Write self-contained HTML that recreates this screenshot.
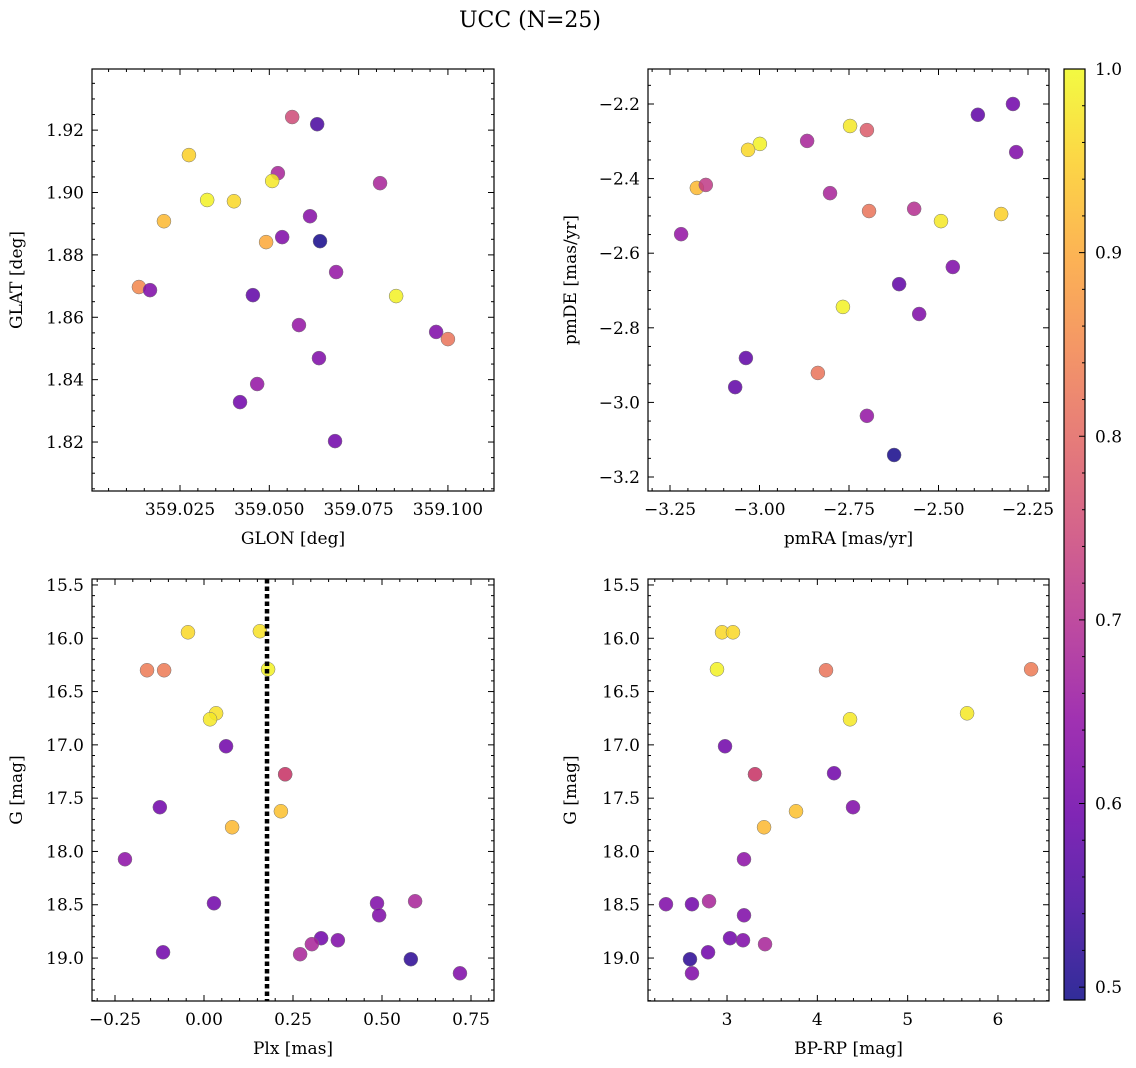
<!DOCTYPE html>
<html><head><meta charset="utf-8"><style>
html,body{margin:0;padding:0;background:#fff;}
svg{display:block;font-family:"DejaVu Serif","Liberation Serif",serif;}
</style></head><body>
<svg id="fig" width="1136" height="1068" viewBox="0 0 1136 1068" xmlns="http://www.w3.org/2000/svg">
<text x="530" y="27" font-size="22" text-anchor="middle">UCC (N=25)</text>
</svg>
<script>
// ---- data ----
const p1x=[359.0564,359.0634,359.0275,359.0810,359.0524,359.0508,359.0326,359.0401,359.0205,359.0614,359.0536,359.0491,359.0642,359.0687,359.0135,359.0166,359.0454,359.0855,359.0583,359.0967,359.1000,359.0639,359.0466,359.0418,359.0684];
const p1y=[1.9242,1.9219,1.9120,1.9030,1.9062,1.9037,1.8976,1.8972,1.8908,1.8924,1.8857,1.8841,1.8844,1.8745,1.8697,1.8687,1.8671,1.8668,1.8575,1.8553,1.8530,1.8469,1.8386,1.8328,1.8203];
const p1c=[0.75,0.55,0.95,0.68,0.68,0.98,0.99,0.96,0.92,0.63,0.62,0.90,0.50,0.65,0.85,0.62,0.58,0.99,0.65,0.62,0.82,0.62,0.65,0.60,0.60];
const p2x=[-2.292,-2.390,-2.747,-2.700,-2.999,-3.032,-2.867,-2.283,-3.175,-3.150,-2.803,-2.694,-2.568,-2.325,-2.493,-3.219,-2.460,-2.610,-2.767,-2.554,-3.038,-2.837,-3.068,-2.700,-2.624];
const p2y=[-2.200,-2.229,-2.259,-2.270,-2.307,-2.323,-2.299,-2.329,-2.425,-2.417,-2.439,-2.487,-2.481,-2.495,-2.514,-2.549,-2.637,-2.683,-2.744,-2.763,-2.881,-2.921,-2.959,-3.036,-3.141];
const p2c=[0.60,0.58,0.98,0.78,0.99,0.96,0.68,0.62,0.92,0.72,0.68,0.82,0.70,0.95,0.98,0.65,0.62,0.58,0.99,0.62,0.58,0.82,0.58,0.65,0.50];
const p3x=[-0.045,0.157,-0.160,-0.112,0.180,0.034,0.017,0.062,0.228,0.216,-0.124,0.079,-0.222,0.028,0.486,0.593,0.492,0.329,0.376,0.303,0.270,-0.115,0.581,0.719,0.228];
const p3y=[15.944,15.934,16.300,16.300,16.291,16.704,16.760,17.013,17.276,17.623,17.585,17.773,18.073,18.486,18.486,18.467,18.599,18.814,18.833,18.870,18.964,18.946,19.011,19.143,17.276];
const p3c=[0.96,0.97,0.83,0.83,0.99,0.97,0.98,0.60,0.75,0.93,0.60,0.92,0.64,0.60,0.62,0.68,0.62,0.60,0.62,0.68,0.68,0.60,0.52,0.62,0.75];
const p4x=[2.945,3.066,2.889,4.096,6.367,5.658,4.362,2.978,3.310,4.185,4.395,3.764,3.410,3.188,2.324,2.612,2.801,3.188,3.033,3.177,3.421,2.790,2.590,2.612,3.310];
const p4y=[15.944,15.944,16.291,16.300,16.291,16.704,16.760,17.013,17.276,17.266,17.585,17.623,17.773,18.073,18.495,18.495,18.467,18.599,18.814,18.833,18.870,18.946,19.011,19.143,17.276];
const p4c=[0.96,0.96,0.99,0.82,0.83,0.98,0.98,0.60,0.75,0.60,0.62,0.93,0.92,0.64,0.62,0.60,0.68,0.62,0.60,0.62,0.68,0.60,0.52,0.62,0.75];
const plxLine=0.177;
const cbTicks=[0.5,0.6,0.7,0.8,0.9,1.0];

const NS="http://www.w3.org/2000/svg";
const svg=document.getElementById('fig');
function el(t,a,p){const e=document.createElementNS(NS,t);for(const k in a)e.setAttribute(k,a[k]);(p||svg).appendChild(e);return e;}
const stops=[[13,8,135],[65,4,157],[106,0,168],[143,13,164],[177,42,144],[204,71,120],[225,100,98],[242,132,75],[252,166,54],[252,206,37],[240,249,33]];
const CMIN=0.493,CMAX=1.0;
function cmap(v){let t=(v-CMIN)/(CMAX-CMIN);t=Math.max(0,Math.min(1,t))*10;const i=Math.min(9,Math.floor(t)),f=t-i;const a=stops[i],b=stops[i+1];return 'rgb('+a.map((c,k)=>Math.round(c+(b[k]-c)*f)).join(',')+')';}
const FS=17;
function panel(name,box,xr,yr,xt,yt,xfmt,yfmt,xdiv,ydiv,xs,ys,cs,xlab,ylab,ylabx){
  const [L,T,R,B]=box;
  const g=el('g',{});
  
  
  const X=v=>L+(v-xr[0])/(xr[1]-xr[0])*(R-L);
  const Y=v=>T+(v-yr[0])/(yr[1]-yr[0])*(B-T);
  const st=xt[1]-xt[0];
  for(let v=xt[0]-st;v<=xt[xt.length-1]+st+1e-9;v+=st/xdiv){const x=X(v);if(x<L-0.1||x>R+0.1)continue;
    const maj=Math.abs(Math.round((v-xt[0])/st)*st-(v-xt[0]))<1e-9;const len=maj?6:3;
    el('line',{x1:x,x2:x,y1:B,y2:B-len,stroke:'#000','stroke-width':1},g);el('line',{x1:x,x2:x,y1:T,y2:T+len,stroke:'#000','stroke-width':1},g);}
  const sy=yt[1]-yt[0];
  for(let v=yt[0]-sy;v<=yt[yt.length-1]+sy+1e-9;v+=sy/ydiv){const y=Y(v);if(y<Math.min(T,B)-0.1||y>Math.max(T,B)+0.1)continue;
    const maj=Math.abs(Math.round((v-yt[0])/sy)*sy-(v-yt[0]))<1e-9;const len=maj?6:3;
    el('line',{y1:y,y2:y,x1:L,x2:L+len,stroke:'#000','stroke-width':1},g);el('line',{y1:y,y2:y,x1:R,x2:R-len,stroke:'#000','stroke-width':1},g);}
  xt.forEach(v=>{const t=el('text',{x:X(v),y:B+24,'font-size':FS,'text-anchor':'middle'},g);t.textContent=xfmt(v);
    });
  yt.forEach(v=>{const t=el('text',{x:L-8,y:Y(v)+6,'font-size':FS,'text-anchor':'end'},g);t.textContent=yfmt(v);
    });
  const xl=el('text',{x:(L+R)/2,y:B+53,'font-size':FS,'text-anchor':'middle'},g);xl.textContent=xlab;
  
  const cy=(T+B)/2;
  const yl=el('text',{x:ylabx,y:cy,'font-size':FS,'text-anchor':'middle',transform:'rotate(-90 '+ylabx+' '+cy+')'},g);yl.textContent=ylab;
  
  for(let i=0;i<xs.length;i++){
    const c=el('circle',{cx:X(xs[i]),cy:Y(ys[i]),r:7,fill:cmap(cs[i]),'fill-opacity':0.85,stroke:'#777','stroke-width':0.5},g);
    
    
  }
  el('rect',{x:L,y:T,width:R-L,height:B-T,fill:'none',stroke:'#000','stroke-width':1.2},g);
  return {X,Y,g};
}
const f3=v=>v.toFixed(3), f2=v=>v.toFixed(2), f1=v=>v.toFixed(1), f0=v=>v.toFixed(0);
const m=s=>s.replace('-','\u2212');
panel('panel-glon-glat',[92,69,494,491],[359.00036,359.1129],[1.9396,1.8043],[359.025,359.05,359.075,359.1],[1.82,1.84,1.86,1.88,1.90,1.92],f3,f2,5,4,p1x,p1y,p1c,'GLON [deg]','GLAT [deg]',22);
panel('panel-pm',[648,69,1049,491],[-3.3115,-2.1913],[-2.1062,-3.2375],[-3.25,-3.0,-2.75,-2.5,-2.25],[-3.2,-3.0,-2.8,-2.6,-2.4,-2.2],v=>m(f2(v)),v=>m(f1(v)),5,4,p2x,p2y,p2c,'pmRA [mas/yr]','pmDE [mas/yr]',576);
const P3=panel('panel-plx-g',[92,579,494,1001],[-0.3146,0.8146],[15.444,19.403],[-0.25,0,0.25,0.5,0.75],[15.5,16,16.5,17,17.5,18,18.5,19],v=>m(f2(v)),f1,5,5,p3x,p3y,p3c,'Plx [mas]','G [mag]',22);
const dl=el('line',{x1:P3.X(plxLine),x2:P3.X(plxLine),y1:579,y2:1001,stroke:'#000','stroke-width':4.5,'stroke-dasharray':'4.5 3'},P3.g);


panel('panel-color-g',[648,579,1049,1001],[2.125,6.565],[15.444,19.403],[3,4,5,6],[15.5,16,16.5,17,17.5,18,18.5,19],f0,f1,5,5,p4x,p4y,p4c,'BP-RP [mag]','G [mag]',576);
const cb=el('g',{});


const defs=el('defs',{},cb);const lg=el('linearGradient',{id:'cbg',x1:0,y1:1,x2:0,y2:0},defs);
for(let i=0;i<=20;i++){const v=CMIN+(CMAX-CMIN)*i/20;el('stop',{offset:i/20,'stop-color':cmap(v),'stop-opacity':0.85},lg);}
const cT=69,cB=1000,cL=1064,cR=1085;
el('rect',{x:cL,y:cT,width:cR-cL,height:cB-cT,fill:'url(#cbg)'},cb);
const CY=v=>cB-(v-CMIN)/(CMAX-CMIN)*(cB-cT);
for(let v=0.5;v<=1.0001;v+=0.02){const y=CY(v);const maj=Math.abs(v*10-Math.round(v*10))<1e-6;el('line',{x1:cR,x2:cR-(maj?6:3),y1:y,y2:y,stroke:'#000'},cb);}
cbTicks.forEach(v=>{const t=el('text',{x:cR+10,y:CY(v)+6,'font-size':FS},cb);t.textContent=v.toFixed(1);
  });
el('rect',{x:cL,y:cT,width:cR-cL,height:cB-cT,fill:'none',stroke:'#000','stroke-width':1.2},cb);
</script>
</body></html>
